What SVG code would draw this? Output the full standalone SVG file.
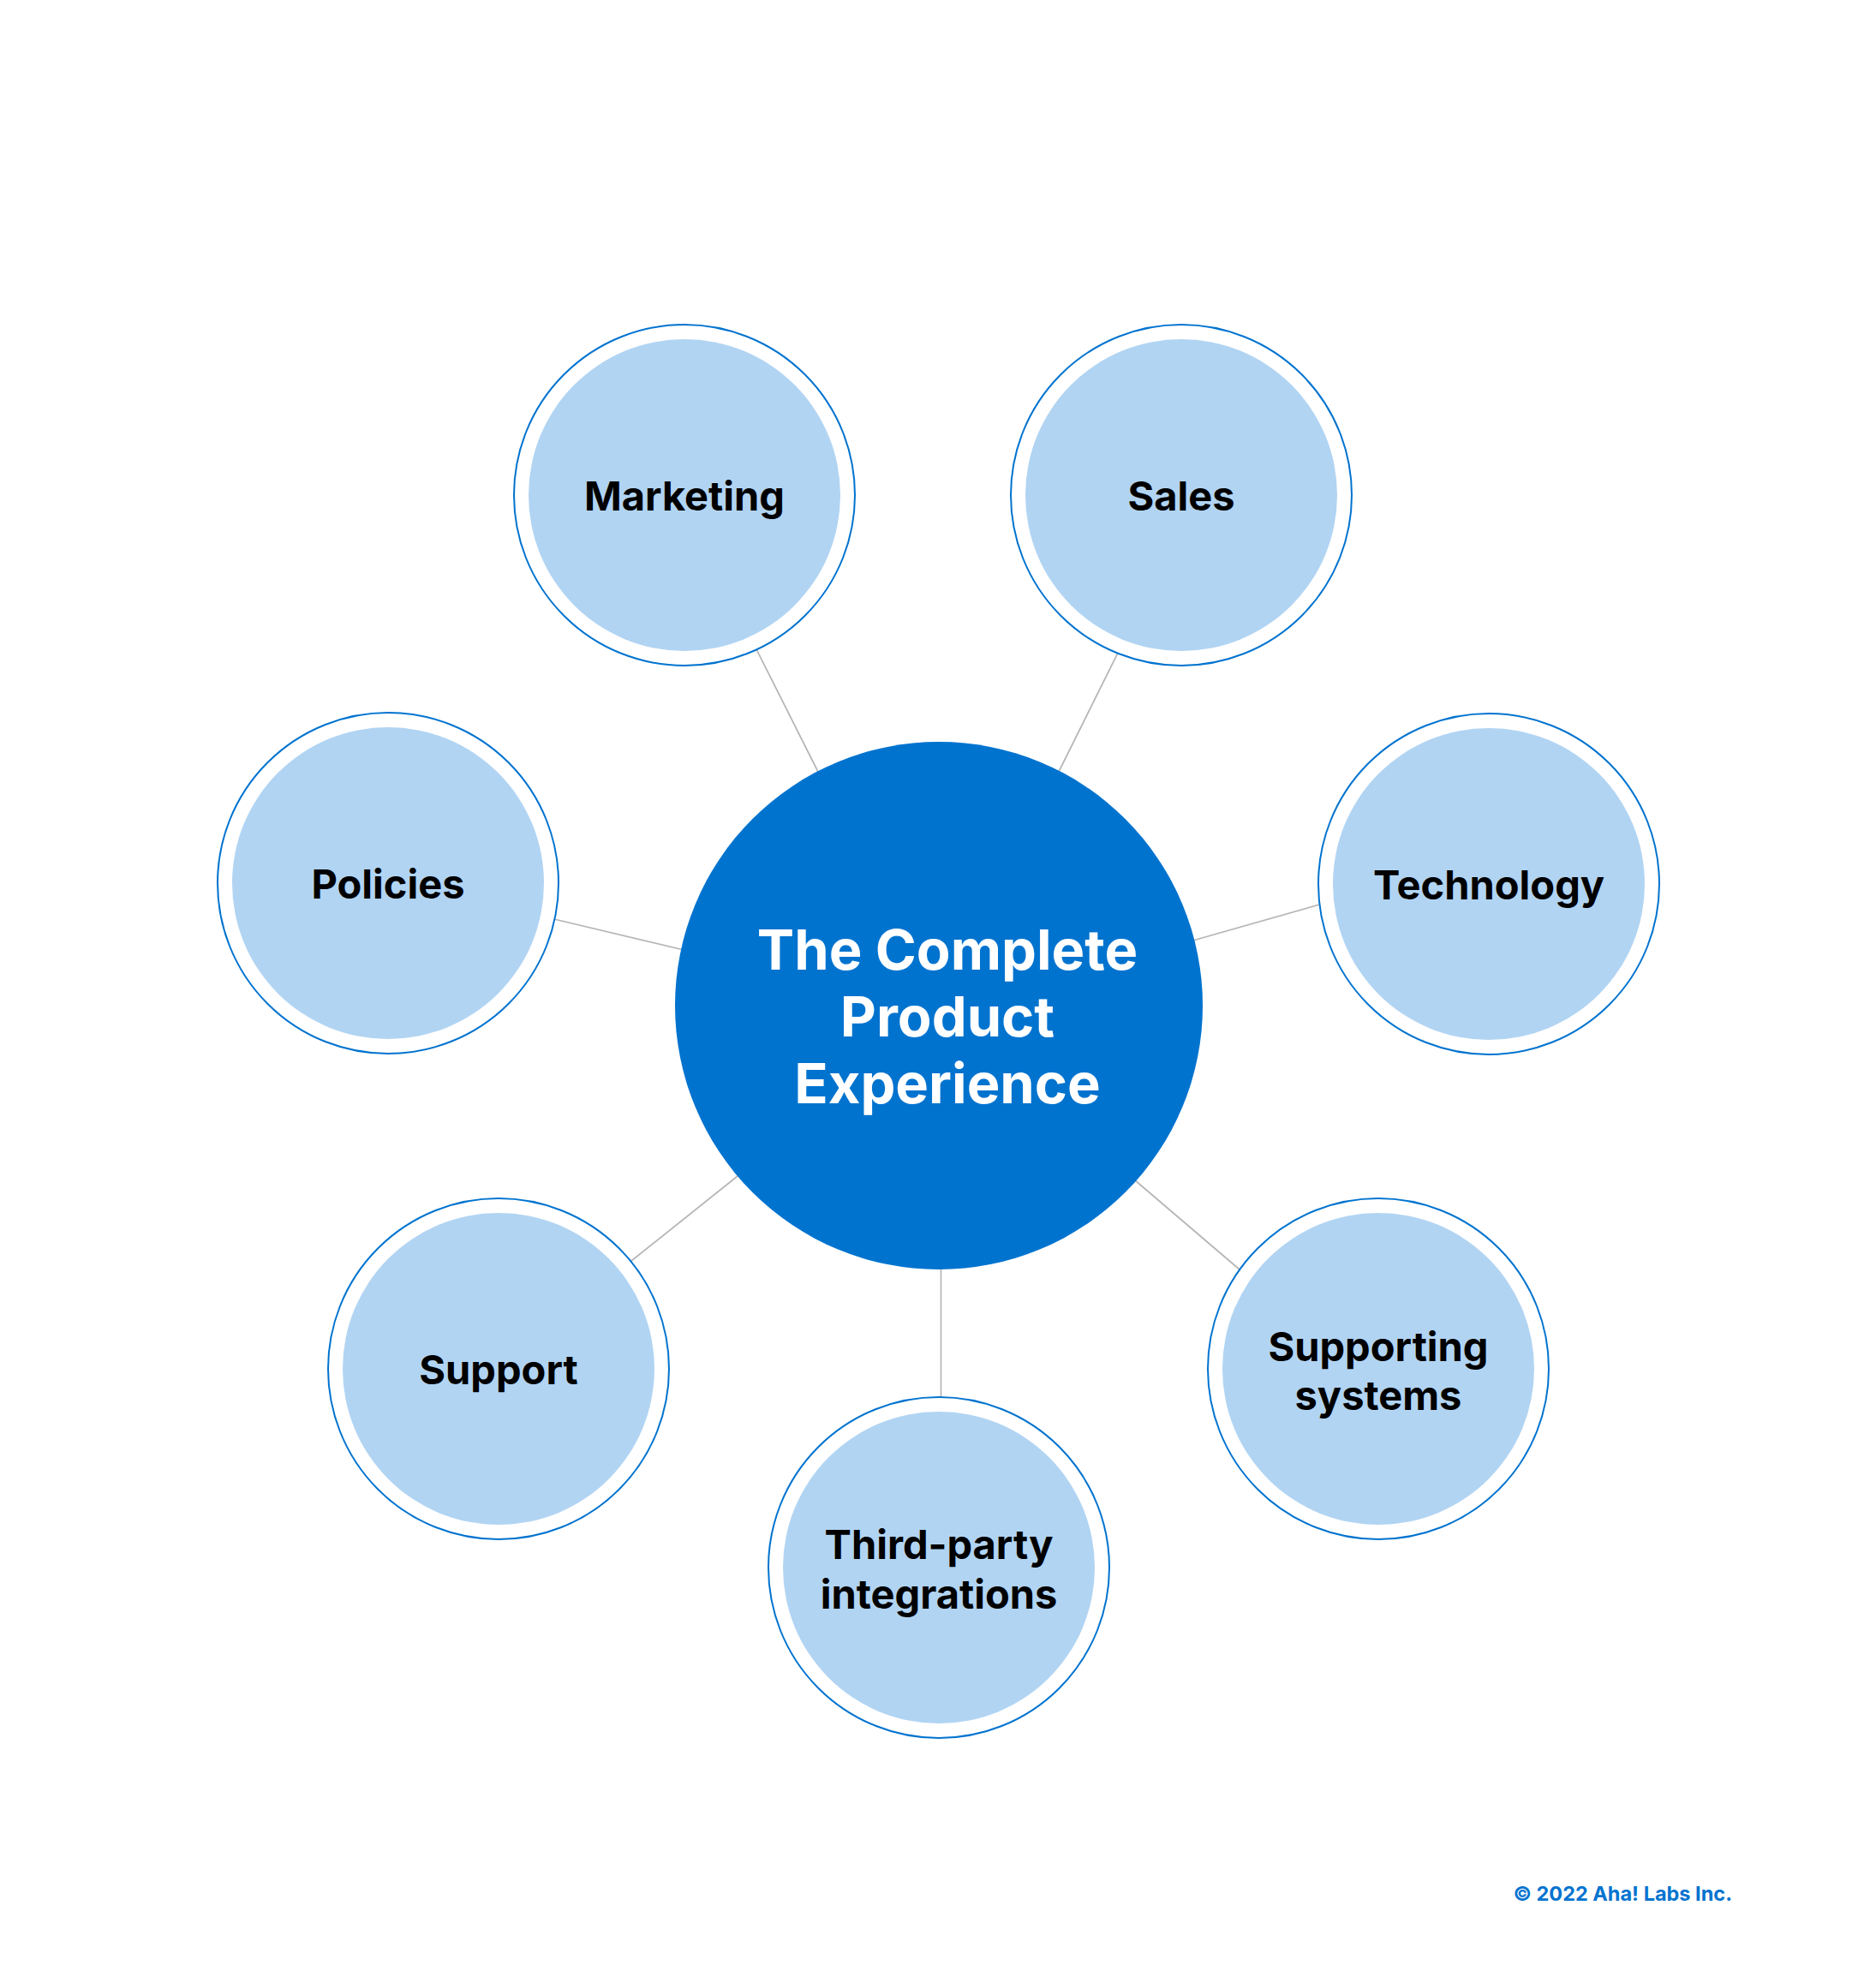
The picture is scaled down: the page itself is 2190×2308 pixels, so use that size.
<svg xmlns="http://www.w3.org/2000/svg" width="2190" height="2308" viewBox="0 0 2190 2308">
  <style>
    .ring { fill: #ffffff; stroke: #0073cf; stroke-width: 2; }
    .fill { fill: #b1d4f3; }
    .hub { fill: #0073cf; }
    .lbl { font-family: Inter, "Liberation Sans", sans-serif; font-weight: 700; font-size: 47px; fill: #000000; text-anchor: middle; }
    .hubtxt { font-family: Inter, "Liberation Sans", sans-serif; font-weight: 700; font-size: 65px; fill: #ffffff; text-anchor: middle; }
    .conn { stroke: #b5b5b5; stroke-width: 1.7; fill: none; }
    .copy { font-family: Inter, "Liberation Sans", sans-serif; font-weight: 700; font-size: 23.5px; fill: #0073cf; text-anchor: end; }
  </style>
  <rect width="2190" height="2308" fill="#ffffff"/>
  <g id="connectors">
    <line class="conn" x1="964" y1="919" x2="875" y2="742"/>
    <line class="conn" x1="1227" y1="919" x2="1314" y2="744"/>
    <line class="conn" x1="815" y1="1113" x2="630" y2="1069"/>
    <line class="conn" x1="1375" y1="1103" x2="1558" y2="1051"/>
    <line class="conn" x1="876" y1="1361" x2="722" y2="1484"/>
    <line class="conn" x1="1311" y1="1366" x2="1461" y2="1494"/>
    <line class="conn" x1="1098.5" y1="1470" x2="1098.5" y2="1645"/>
  </g>
  <g id="hub">
    <circle class="hub" cx="1096" cy="1174" r="308"/>
    <text class="hubtxt" x="1106" y="1132">The Complete</text>
    <text class="hubtxt" x="1106" y="1210">Product</text>
    <text class="hubtxt" x="1106" y="1288">Experience</text>
  </g>
  <g id="marketing">
    <circle class="ring" cx="799" cy="578" r="199"/>
    <circle class="fill" cx="799" cy="578" r="182"/>
    <text class="lbl" x="799" y="596">Marketing</text>
  </g>
  <g id="sales">
    <circle class="ring" cx="1379" cy="578" r="199"/>
    <circle class="fill" cx="1379" cy="578" r="182"/>
    <text class="lbl" x="1379" y="596">Sales</text>
  </g>
  <g id="policies">
    <circle class="ring" cx="453" cy="1031" r="199"/>
    <circle class="fill" cx="453" cy="1031" r="182"/>
    <text class="lbl" x="453" y="1049">Policies</text>
  </g>
  <g id="technology">
    <circle class="ring" cx="1738" cy="1032" r="199"/>
    <circle class="fill" cx="1738" cy="1032" r="182"/>
    <text class="lbl" x="1738" y="1050">Technology</text>
  </g>
  <g id="support">
    <circle class="ring" cx="582" cy="1598" r="199"/>
    <circle class="fill" cx="582" cy="1598" r="182"/>
    <text class="lbl" x="582" y="1616">Support</text>
  </g>
  <g id="supporting-systems">
    <circle class="ring" cx="1609" cy="1598" r="199"/>
    <circle class="fill" cx="1609" cy="1598" r="182"/>
    <text class="lbl" x="1609" y="1589">Supporting</text>
    <text class="lbl" x="1609" y="1646">systems</text>
  </g>
  <g id="third-party">
    <circle class="ring" cx="1096" cy="1830" r="199"/>
    <circle class="fill" cx="1096" cy="1830" r="182"/>
    <text class="lbl" x="1096" y="1820">Third-party</text>
    <text class="lbl" x="1096" y="1878">integrations</text>
  </g>
  <text class="copy" x="2022" y="2219">© 2022 Aha! Labs Inc.</text>
</svg>
